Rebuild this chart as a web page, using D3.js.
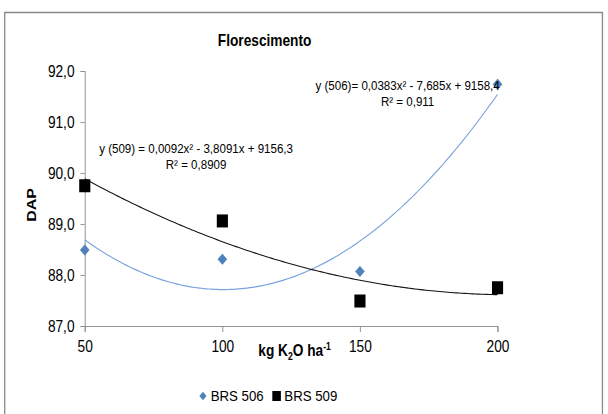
<!DOCTYPE html>
<html>
<head>
<meta charset="utf-8">
<script src="https://cdn.jsdelivr.net/npm/d3@7"></script>
<style>
  body { margin: 0; background: #fff; }
  svg text { font-family: Arial, "Liberation Sans", sans-serif; fill: #000; }
</style>
</head>
<body>
<script>
// data
var doses = [50, 100, 150, 200];
var brs506 = [88.49, 88.31, 88.07, 91.74];
var brs509 = [89.75, 89.06, 87.49, 87.75];
var yTicks = [87, 88, 89, 90, 91, 92];
var seriesNames = ["BRS 506", "BRS 509"];
var eq506 = ["y  (506)= 0,0383x\u00b2 - 7,685x + 9158,4", "R\u00b2 = 0,911"];
var eq509 = ["y (509) = 0,0092x\u00b2 - 3,8091x + 9156,3", "R\u00b2 = 0,8909"];

var W = 608, H = 414;
// the original chart was laid out wider and squeezed to 608px
var innerW = 710;
var svg = d3.select("body").append("svg").attr("width", W).attr("height", H)
  .append("g").attr("transform", "scale(" + (W / innerW) + ",1)");

// outer chart border
svg.append("rect").attr("x", 5.5).attr("y", 12.5).attr("width", 698).attr("height", 420)
   .attr("fill", "none").attr("stroke", "#888").attr("stroke-width", 1.5);

var x = d3.scaleLinear().domain([50, 200]).range([99, 581]);
var y = d3.scaleLinear().domain([87, 92]).range([326, 71]);

// quadratic least squares, like excel's polynomial trendline
function quadFit(xs, ys) {
  var s = [0,0,0,0,0], t = [0,0,0];
  xs.forEach(function(xv, i) {
    for (var k = 0; k < 5; k++) s[k] += Math.pow(xv, k);
    for (var k = 0; k < 3; k++) t[k] += ys[i] * Math.pow(xv, k);
  });
  var m = [[s[0],s[1],s[2],t[0]],[s[1],s[2],s[3],t[1]],[s[2],s[3],s[4],t[2]]];
  for (var i = 0; i < 3; i++) {
    for (var j = i + 1; j < 3; j++) {
      var f = m[j][i] / m[i][i];
      for (var k = i; k < 4; k++) m[j][k] -= f * m[i][k];
    }
  }
  var c = [0,0,0];
  for (var i = 2; i >= 0; i--) {
    var v = m[i][3];
    for (var k = i + 1; k < 3; k++) v -= m[i][k] * c[k];
    c[i] = v / m[i][i];
  }
  return function(xv) { return c[0] + c[1]*xv + c[2]*xv*xv; };
}

var fmt = function(d) { return d3.format(".1f")(d).replace(".", ","); };

// axes
var yAxis = svg.append("g").attr("transform", "translate(99,0)")
   .call(d3.axisLeft(y).tickValues(yTicks).tickFormat(fmt).tickSize(5).tickPadding(7));
var xAxis = svg.append("g").attr("transform", "translate(0,326)")
   .call(d3.axisBottom(x).tickValues(doses).tickSize(6).tickPadding(9));
[yAxis, xAxis].forEach(function(g) {
  g.select(".domain").attr("stroke", "#8c8c8c");
  g.selectAll(".tick line").attr("stroke", "#8c8c8c");
  g.selectAll(".tick text").attr("font-size", 16).attr("font-family", "Arial, 'Liberation Sans', sans-serif").attr("fill", "#000");
});

// trendlines
var line = d3.line().x(function(d) { return x(d[0]); }).y(function(d) { return y(d[1]); });
var xs = d3.range(50, 200.5, 1);
var f506 = quadFit(doses, brs506), f509 = quadFit(doses, brs509);
svg.append("path").attr("d", line(xs.map(function(v) { return [v, f506(v)]; })))
   .attr("fill", "none").attr("stroke", "#7aa3dc").attr("stroke-width", 1.2);
svg.append("path").attr("d", line(xs.map(function(v) { return [v, f509(v)]; })))
   .attr("fill", "none").attr("stroke", "#111").attr("stroke-width", 1.1);

// markers
var diamond = d3.symbol().type(d3.symbolDiamond2).size(70);
svg.selectAll(".p506").data(doses).enter().append("path")
   .attr("d", diamond)
   .attr("transform", function(d, i) { return "translate(" + x(d) + "," + y(brs506[i]) + ")"; })
   .attr("fill", "#4f81bd").attr("stroke", "#3f6fa8").attr("stroke-width", 0.5);
svg.selectAll(".p509").data(doses).enter().append("rect")
   .attr("x", function(d) { return x(d) - 6.5; })
   .attr("y", function(d, i) { return y(brs509[i]) - 6.5; })
   .attr("width", 13).attr("height", 13).attr("fill", "#000");

// equations
function eq(lines, cx, cy) {
  lines.forEach(function(t, i) {
    svg.append("text").attr("x", cx).attr("y", cy + i * 16).attr("text-anchor", "middle")
       .attr("dominant-baseline", "central").attr("font-size", 13.5).attr("fill", "#222").text(t);
  });
}
eq(eq509, 229, 149);
eq(eq506, 476, 86);

// title
svg.append("text").attr("x", 309).attr("y", 41).attr("text-anchor", "middle")
   .attr("dominant-baseline", "central").attr("font-size", 16).attr("font-weight", "bold")
   .text("Florescimento");

// y title
svg.append("text").attr("transform", "translate(37,205) rotate(-90)").attr("text-anchor", "middle")
   .attr("dominant-baseline", "central").attr("font-size", 16).attr("font-weight", "bold").text("DAP");

// x title
var xt = svg.append("text").attr("x", 344).attr("y", 356).attr("text-anchor", "middle")
   .attr("font-size", 16).attr("font-weight", "bold");
xt.append("tspan").text("kg K");
xt.append("tspan").attr("font-size", 10).attr("dy", 4).text("2");
xt.append("tspan").attr("dy", -4).text("O ha");
xt.append("tspan").attr("font-size", 10).attr("dy", -6).text("-1");

// legend
var leg = svg.append("g").attr("transform", "translate(0,396)");
leg.append("path").attr("d", d3.symbol().type(d3.symbolDiamond2).size(45))
   .attr("transform", "translate(237,0)").attr("fill", "#4f81bd");
leg.append("text").attr("x", 246).attr("y", 0).attr("dominant-baseline", "central")
   .attr("font-size", 15.5).text(seriesNames[0]);
leg.append("rect").attr("x", 318).attr("y", -5).attr("width", 10).attr("height", 10).attr("fill", "#000");
leg.append("text").attr("x", 332).attr("y", 0).attr("dominant-baseline", "central")
   .attr("font-size", 15.5).text(seriesNames[1]);
</script>
</body>
</html>
